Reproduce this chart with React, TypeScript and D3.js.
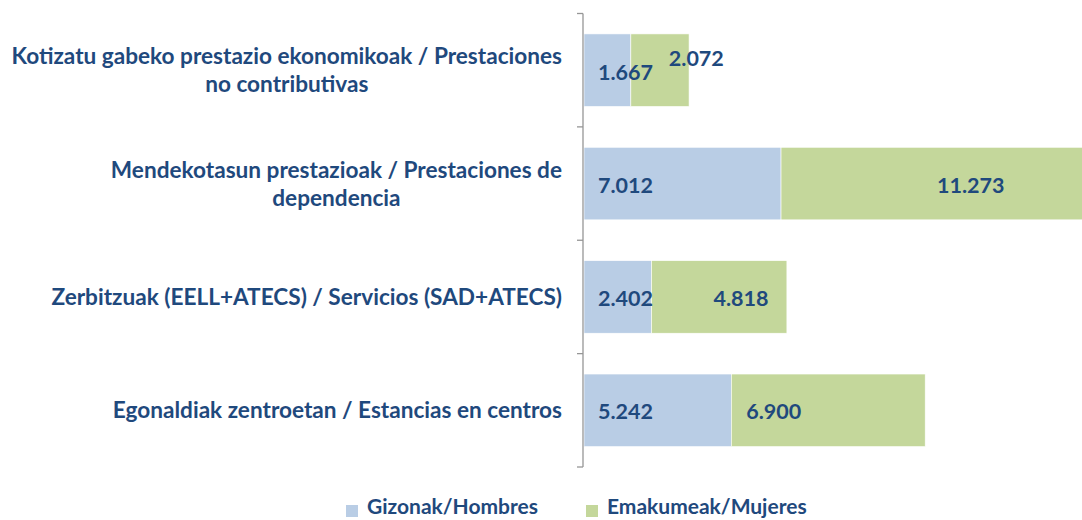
import React, { useEffect, useRef } from 'react';
import * as d3 from 'd3';

const categories = [
  'Kotizatu gabeko prestazio ekonomikoak / Prestaciones|no contributivas',
  'Mendekotasun prestazioak / Prestaciones de|dependencia',
  'Zerbitzuak (EELL+ATECS) / Servicios (SAD+ATECS)',
  'Egonaldiak zentroetan / Estancias en centros',
];
const hombres = [1667, 7012, 2402, 5242];
const mujeres = [2072, 11273, 4818, 6900];
const seriesNames = ['Gizonak/Hombres', 'Emakumeak/Mujeres'];

// manual label nudges, like the dragged labels in the original
const greenDx = [38, 156, 62, 15];
const greenDy = [-13, 0, 0, 0];

const fmt = (v: number) => d3.format(',')(v).replace(/,/g, '.');

const App = () => {
  const svgRef = useRef<SVGSVGElement>(null);

  useEffect(() => {
    document.body.style.margin = '0';
    document.body.style.overflow = 'hidden';
    const width = 1082;
    const height = 520;
    const blue = '#b9cde5';
    const green = '#c4d79b';
    const ink = '#1f497d';
    const font = 'Lato, "Open Sans", sans-serif';

    const svg = d3.select(svgRef.current);
    svg.selectAll('*').remove();
    svg.attr('width', width).attr('height', height).attr('viewBox', [0, 0, width, height]);

    const x = d3.scaleLinear([0, 20000], [584, 1146]);
    const y = d3.scaleBand(categories, [13.5, 467]).paddingInner(0.36).paddingOuter(0.18);
    const yTicks = d3.scaleBand(categories, [13.5, 467]);

    const rows = categories.map((c, i) => ({ c, i, h: hombres[i], m: mujeres[i] }));

    svg.append('g').selectAll('rect').data(rows).join('rect')
      .attr('x', d => x(0)).attr('y', d => y(d.c)!)
      .attr('width', d => x(d.h) - x(0)).attr('height', y.bandwidth())
      .attr('fill', blue).attr('stroke', '#fff').attr('stroke-width', 0.6);
    svg.append('g').selectAll('rect').data(rows).join('rect')
      .attr('x', d => x(d.h)).attr('y', d => y(d.c)!)
      .attr('width', d => x(d.h + d.m) - x(d.h)).attr('height', y.bandwidth())
      .attr('fill', green).attr('stroke', '#fff').attr('stroke-width', 0.6);

    // axis
    const ax = svg.append('g').attr('stroke', '#969696').attr('stroke-width', 1.3);
    ax.append('line').attr('x1', 583).attr('x2', 583).attr('y1', 13.5).attr('y2', 467);
    const bounds = [...categories.map(c => yTicks(c)!), 467];
    ax.selectAll('line.t').data(bounds).join('line').attr('class', 't')
      .attr('x1', 577).attr('x2', 583).attr('y1', d => d).attr('y2', d => d);

    // value labels
    svg.append('g').selectAll('text').data(rows).join('text')
      .attr('x', d => x(0) + 14).attr('y', d => y(d.c)! + y.bandwidth() / 2 + 9 + (d.i === 0 ? 1 : 0))
      .attr('fill', ink).attr('font-family', font).attr('font-weight', 700).attr('font-size', 21.5)
      .text(d => fmt(d.h));
    svg.append('g').selectAll('text').data(rows).join('text')
      .attr('x', d => x(d.h) + greenDx[d.i]).attr('y', d => y(d.c)! + y.bandwidth() / 2 + 9 + greenDy[d.i])
      .attr('fill', ink).attr('font-family', font).attr('font-weight', 700).attr('font-size', 21.5)
      .text(d => fmt(d.m));

    // category labels
    rows.forEach(d => {
      const lines = d.c.split('|');
      const cy = y(d.c)! + y.bandwidth() / 2;
      const lh = 28;
      const g = svg.append('g');
      const t0 = g.append('text').attr('x', 562).attr('text-anchor', 'end')
        .attr('y', cy - (lines.length - 1) * lh / 2 + 8)
        .attr('fill', ink).attr('font-family', font).attr('font-weight', 700).attr('font-size', 22.6)
        .text(lines[0]);
      if (lines.length > 1) {
        const w = (t0.node() as SVGTextElement).getComputedTextLength();
        g.append('text').attr('x', 562 - w / 2).attr('text-anchor', 'middle')
          .attr('y', cy + lh / 2 + 8)
          .attr('fill', ink).attr('font-family', font).attr('font-weight', 700).attr('font-size', 22.6)
          .text(lines[1]);
      }
    });

    // legend
    const legX = [346, 586];
    const leg = svg.append('g').selectAll('g').data(seriesNames).join('g')
      .attr('transform', (d, i) => `translate(${legX[i]},0)`);
    leg.append('rect').attr('x', 0).attr('y', 505).attr('width', 12).attr('height', 12)
      .attr('fill', (d, i) => (i === 0 ? blue : green));
    leg.append('text').attr('x', 21).attr('y', 514)
      .attr('fill', ink).attr('font-family', font).attr('font-weight', 700).attr('font-size', 21)
      .text(d => d);
  }, []);

  return <svg ref={svgRef} style={{ display: 'block' }} />;
};

export default App;
